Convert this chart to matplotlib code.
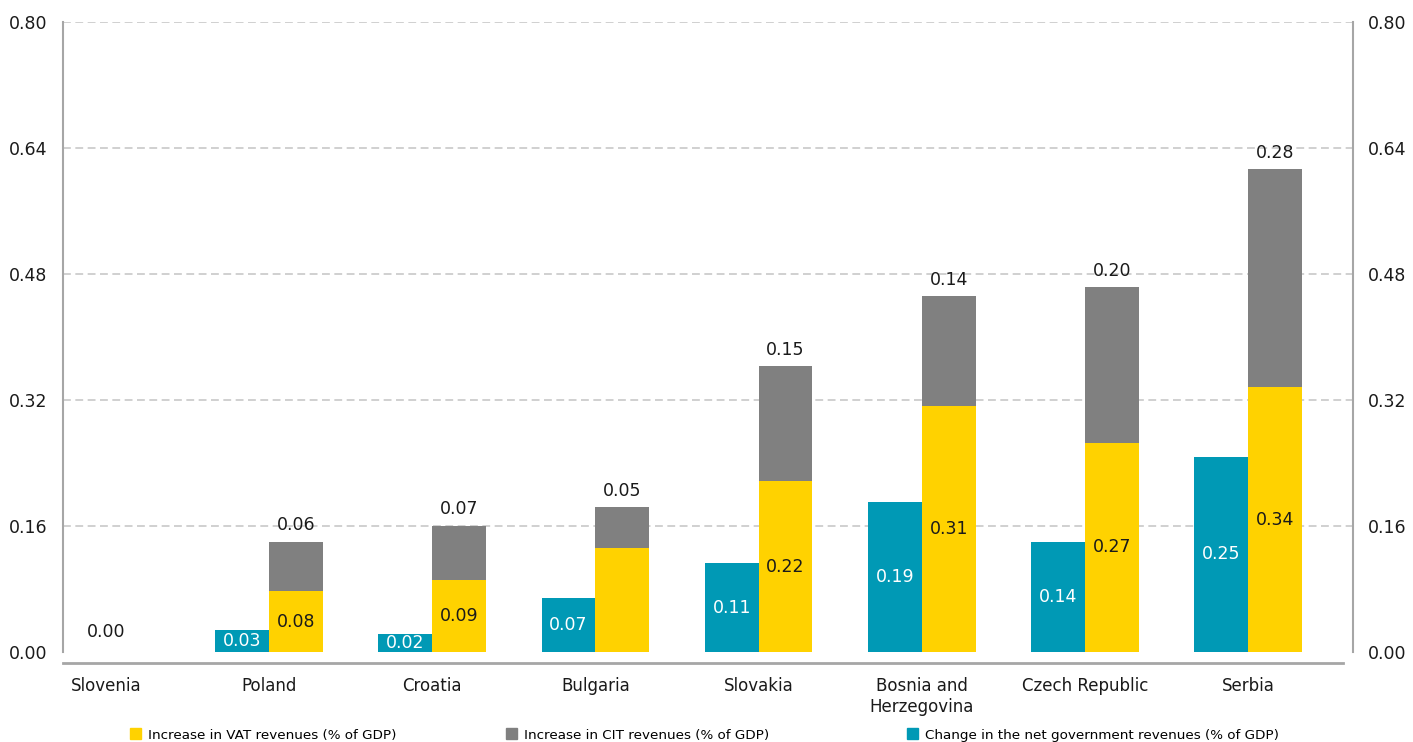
import matplotlib.pyplot as plt
import numpy as np
from matplotlib.patches import Patch

countries = ["Slovenia", "Poland", "Croatia", "Bulgaria", "Slovakia",
             "Bosnia and\nHerzegovina", "Czech Republic", "Serbia"]
net_rev = [0.00, 0.028, 0.023, 0.069, 0.113, 0.191, 0.140, 0.248]
vat_rev = [0.00, 0.077, 0.091, 0.132, 0.217, 0.312, 0.266, 0.336]
cit_rev = [0.00, 0.063, 0.069, 0.052, 0.146, 0.140, 0.197, 0.277]
yticks = [0.00, 0.16, 0.32, 0.48, 0.64, 0.80]

TEAL = "#0099b5"
YELLOW = "#ffd200"
GRAY = "#808080"
AXIS = "#a6a6a6"

plt.rcParams["font.family"] = "DejaVu Sans"

fig = plt.figure(figsize=(14.13, 7.42), dpi=100)
ax = fig.add_axes([63 / 1413, 90 / 742, 1290 / 1413, 630 / 742])

x = np.arange(len(countries))
w = 0.33
net = np.array(net_rev)
vat = np.array(vat_rev)
cit = np.array(cit_rev)

ax.bar(x - w / 2, net, w, color=TEAL, zorder=3)
ax.bar(x + w / 2, vat, w, color=YELLOW, zorder=3)
ax.bar(x + w / 2, cit, w, bottom=vat, color=GRAY, zorder=3)

fs = 12.5
for i in range(len(x)):
    if net[i] > 0:
        ax.text(x[i] - w / 2, net[i] / 2, f"{net[i]:.2f}", ha="center", va="center",
                color="white", fontsize=fs, zorder=4)
    else:
        ax.text(x[i], 0.025, f"{net[i]:.2f}", ha="center", va="center",
                color="#1a1a1a", fontsize=fs, zorder=4)
    # no label on the Bulgarian VAT bar in the original
    if vat[i] > 0 and i != 3:
        ax.text(x[i] + w / 2, vat[i] / 2, f"{vat[i]:.2f}", ha="center", va="center",
                color="#1a1a1a", fontsize=fs, zorder=4)
    if cit[i] > 0:
        ax.text(x[i] + w / 2, vat[i] + cit[i] + 0.021, f"{cit[i]:.2f}", ha="center",
                va="center", color="#1a1a1a", fontsize=fs, zorder=4)

ax.set_xlim(-0.262, 7.642)
ax.set_ylim(0, 0.8)
ax.set_yticks(yticks)
ax.set_yticklabels([f"{v:.2f}" for v in yticks])
ax.set_xticks(x)
ax.set_xticklabels(countries)
ax.tick_params(axis="y", length=0, labelsize=fs, labelcolor="#1a1a1a", pad=11,
               labelleft=True, labelright=True)
ax.tick_params(axis="x", length=0, labelsize=12, labelcolor="#1a1a1a", pad=18)

# dashed gridlines, none at zero
for v in yticks[1:]:
    ax.axhline(v, color="#c8c8c8", linestyle=(0, (4.7, 2.7)), linewidth=1.2, zorder=0)
ax.spines["top"].set_visible(False)
ax.spines["bottom"].set_visible(False)
for s in ("left", "right"):
    ax.spines[s].set_color(AXIS)
    ax.spines[s].set_linewidth(1.5)
ax.axhline(-0.014, xmin=0, xmax=0.992, color=AXIS, linewidth=2, clip_on=False)

items = [(YELLOW, "Increase in VAT revenues (% of GDP)", 130),
         (GRAY, "Increase in CIT revenues (% of GDP)", 506),
         (TEAL, "Change in the net government revenues (% of GDP)", 907)]
for col, lab, px in items:
    fig.legend(handles=[Patch(color=col, label=lab)], loc="center left",
               bbox_to_anchor=(px / 1413, 1 - 735 / 742), frameon=False,
               fontsize=9.7, handlelength=0.85, handleheight=0.85,
               handletextpad=0.5, borderpad=0, borderaxespad=0)

fig.savefig("out.png", dpi=100)
